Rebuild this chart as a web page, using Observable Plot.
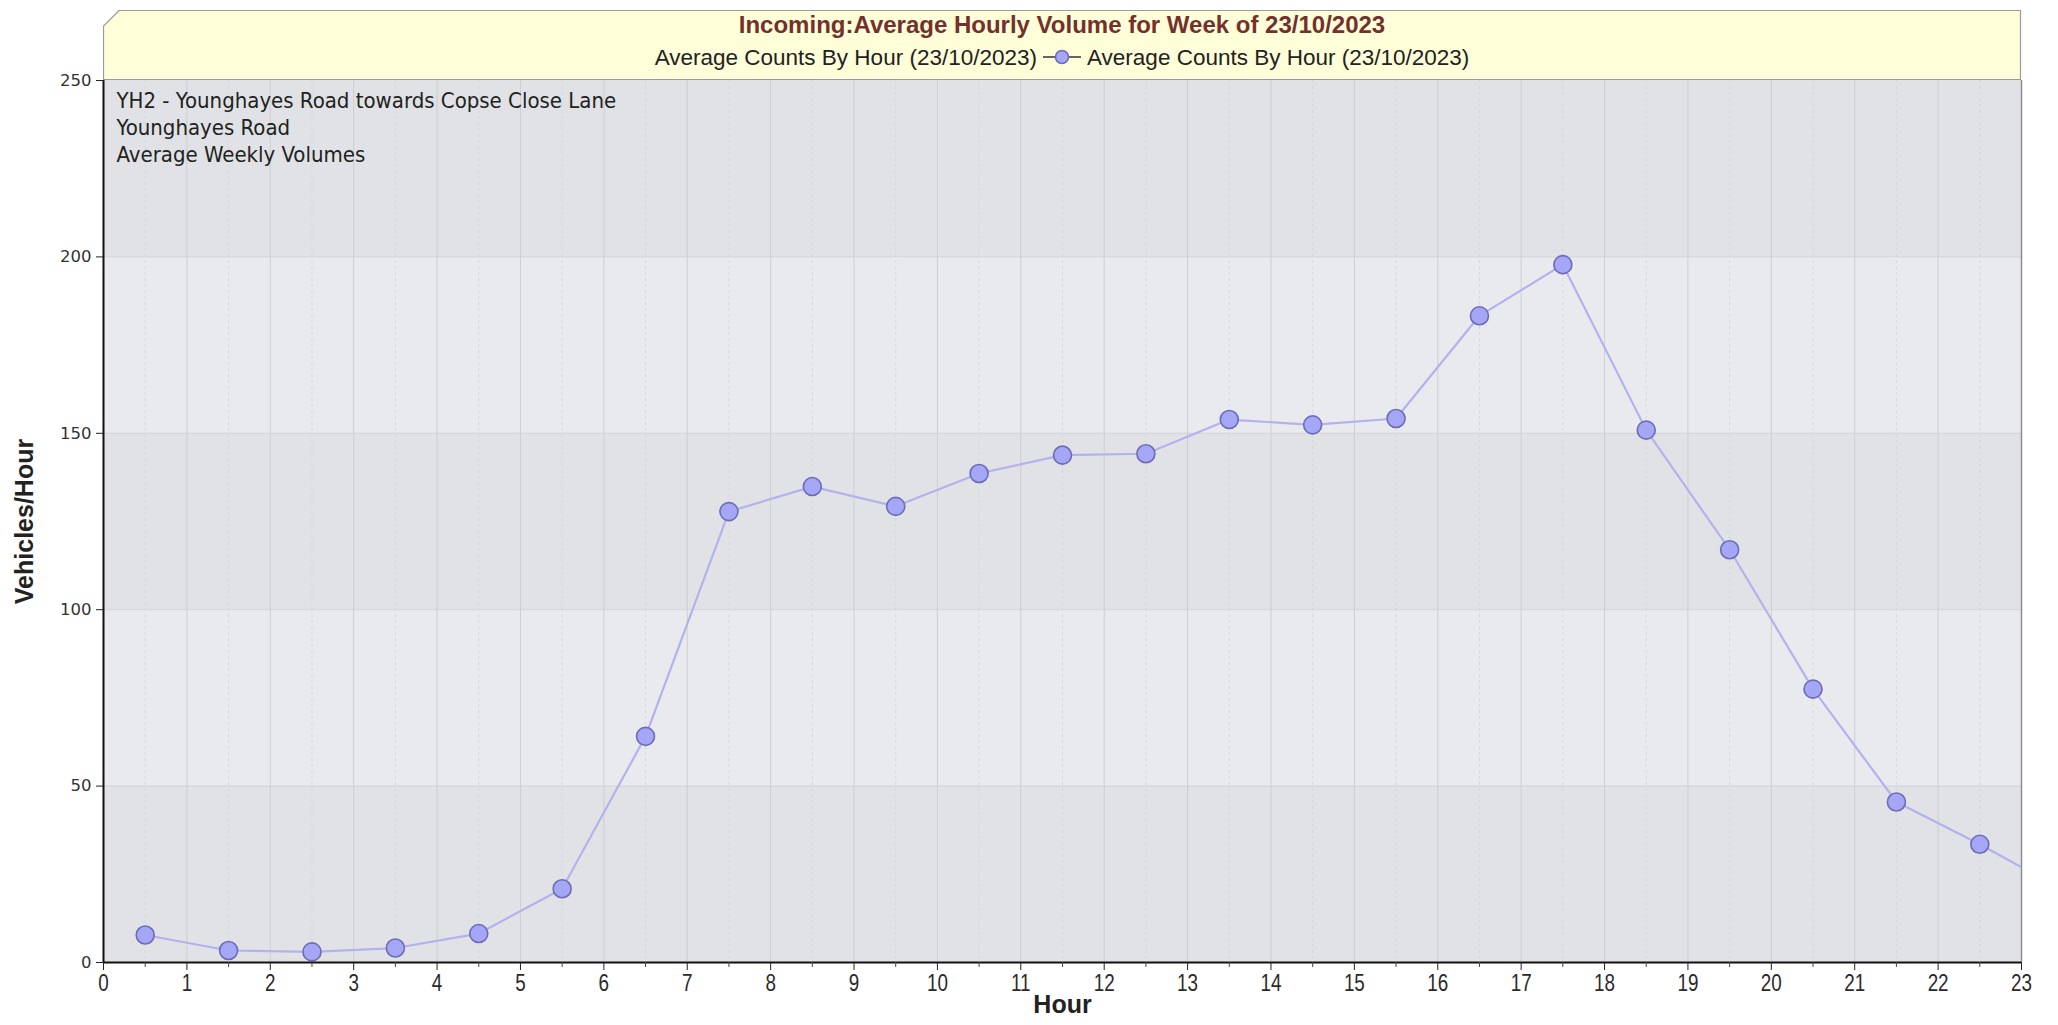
<!DOCTYPE html>
<html>
<head>
<meta charset="utf-8">
<script src="https://cdn.jsdelivr.net/npm/d3@7"></script>
<script src="https://cdn.jsdelivr.net/npm/@observablehq/plot@0.6"></script>
<style>
  body { margin: 0; background: #ffffff; }
  #wrap { position: relative; width: 2058px; height: 1025px; overflow: hidden; }
  #legend { position: absolute; left: 103px; top: 10px; width: 1918px; height: 70px; }
  #legend svg.bg { position: absolute; left: 0; top: 0; }
  #legend .title { position: absolute; left: 0; right: 0; top: 1px; text-align: center;
    font-family: "Liberation Sans", Arial, sans-serif; font-weight: bold; font-size: 24px; line-height: 28px; color: #74302d; white-space: nowrap; }
  #legend .row { position: absolute; left: 0; right: 0; top: 35px; text-align: center; line-height: 26px;
    font-family: "Liberation Sans", Arial, sans-serif; font-size: 22.5px; color: #222; white-space: nowrap; }
  #legend .row svg { vertical-align: middle; margin: 0 6px; position: relative; top: -2px; }
</style>
</head>
<body>
<div id="wrap">
  <div id="chart"></div>
  <div id="legend"></div>
</div>
<script>
// ---- data ----
const titleText = "Incoming:Average Hourly Volume for Week of 23/10/2023";
const seriesNames = ["Average Counts By Hour (23/10/2023)", "Average Counts By Hour (23/10/2023)"];
const annotationLines = ["YH2 - Younghayes Road towards Copse Close Lane", "Younghayes Road", "Average Weekly Volumes"];
const hours = [0.5, 1.5, 2.5, 3.5, 4.5, 5.5, 6.5, 7.5, 8.5, 9.5, 10.5, 11.5,
               12.5, 13.5, 14.5, 15.5, 16.5, 17.5, 18.5, 19.5, 20.5, 21.5, 22.5, 23.5];
const counts = [7.8, 3.4, 3.0, 4.1, 8.2, 20.9, 64.1, 127.8, 134.9, 129.3, 138.6, 143.8,
                144.2, 153.9, 152.4, 154.2, 183.3, 197.8, 150.9, 117.0, 77.5, 45.5, 33.5, 20.5];
const xTicks = [0, 1, 2, 3, 4, 5, 6, 7, 8, 9, 10, 11, 12, 13, 14, 15, 16, 17, 18, 19, 20, 21, 22, 23];
const xMinorTicks = [0.5, 1.5, 2.5, 3.5, 4.5, 5.5, 6.5, 7.5, 8.5, 9.5, 10.5, 11.5,
                     12.5, 13.5, 14.5, 15.5, 16.5, 17.5, 18.5, 19.5, 20.5, 21.5, 22.5];
const yTicks = [0, 50, 100, 150, 200, 250];
const darkBandLow = [0, 100, 200];
const darkBandHigh = [50, 150, 250];
const xLabel = "Hour";
const yLabel = "Vehicles/Hour";

// ---- build ----
const data = hours.map((h, i) => ({hour: h, count: counts[i]}));
const bands = darkBandLow.map((lo, i) => ({lo, hi: darkBandHigh[i]}));
const inner = xTicks.slice(1, -1);
const gridY = yTicks.slice(1, -1);

const sansFont = "'Liberation Sans', Arial, sans-serif";

const chart = Plot.plot({
  width: 2058,
  height: 1025,
  marginLeft: 103,
  marginRight: 37,
  marginTop: 80,
  marginBottom: 63,
  style: {fontFamily: sansFont, background: "transparent", color: "#222"},
  x: {domain: [0, 23], axis: null, label: null},
  y: {domain: [0, 250], axis: null, label: null},
  marks: [
    Plot.frame({fill: "#e8eaed", stroke: null}),
    Plot.rect(bands, {y1: "lo", y2: "hi", fill: "#e1e2e5"}),
    Plot.ruleY(gridY, {stroke: "#d3d4d7", strokeWidth: 1}),
    Plot.ruleX(xMinorTicks, {stroke: "#d6d7da", strokeWidth: 1, strokeDasharray: "3,3"}),
    Plot.ruleX(inner, {stroke: "#cdced2", strokeWidth: 1}),
    Plot.ruleX([23], {stroke: "#8f8f8f", strokeWidth: 1.5}),
    Plot.line(data, {x: "hour", y: "count", stroke: "#b2b2ef", strokeWidth: 2.2, clip: true}),
    Plot.dot(data, {x: "hour", y: "count", r: 9, fill: "#a6a6f6", stroke: "#6c6cb6", strokeWidth: 1.6, clip: true}),
    Plot.ruleY([0], {stroke: "#111", strokeWidth: 2}),
    Plot.ruleX([0], {stroke: "#111", strokeWidth: 2}),
    Plot.axisX(xTicks, {label: null, tickSize: 8, tickPadding: 4, fontSize: 23, tickFormat: d => String(d), stroke: "#222", fill: "#2a2a2a"}),
    Plot.axisX(xMinorTicks, {label: null, tickSize: 5, text: null, stroke: "#444"}),
    Plot.axisY(yTicks, {label: null, tickSize: 7, tickPadding: 5, fontSize: 16.5, fontFamily: "'DejaVu Sans', Verdana, sans-serif", tickFormat: d => String(d), stroke: "#222", fill: "#333"}),
    Plot.text([annotationLines.join("\n")], {frameAnchor: "top-left", dx: 13, dy: 8, fontSize: 22, lineHeight: 1.23,
      fontFamily: "'DejaVu Sans Condensed', 'DejaVu Sans', sans-serif", fill: "#222", textAnchor: "start", lineAnchor: "top"}),
    Plot.text([xLabel], {frameAnchor: "bottom", dy: 50, fontSize: 25, fontWeight: "bold", fill: "#222", textAnchor: "middle"}),
    Plot.text([yLabel], {frameAnchor: "left", dx: -79, rotate: -90, fontSize: 25, fontWeight: "bold", fill: "#222", textAnchor: "middle", lineAnchor: "middle"})
  ]
});
document.getElementById("chart").appendChild(chart);

// narrow the x tick labels (reference uses a condensed face)
d3.select(chart).selectAll('g[aria-label="x-axis tick label"] text').each(function () {
  const t = this.getAttribute("transform") || "";
  this.setAttribute("transform", t + " scale(0.82,1)");
});

// ---- title / legend box ----
const legend = document.getElementById("legend");
const W = 1918, H = 70, c = 16;
legend.innerHTML =
  `<svg class="bg" width="${W + 4}" height="${H + 2}">
     <polygon points="${c},0.5 ${W - 0.5},0.5 ${W - 0.5},${H - 0.5} 0.5,${H - 0.5} 0.5,${c}"
       fill="#fefed8" stroke="#9a9a9a" stroke-width="1.2"/>
   </svg>
   <div class="title"></div>
   <div class="row"><span class="s1"></span><svg width="38" height="16"><line x1="0" y1="8" x2="38" y2="8" stroke="#333" stroke-width="1.6"/><circle cx="19" cy="8" r="6.5" fill="#a6a6f6" stroke="#6c6cb6" stroke-width="1.5"/></svg><span class="s2"></span></div>`;
legend.querySelector(".title").textContent = titleText;
legend.querySelector(".s1").textContent = seriesNames[0];
legend.querySelector(".s2").textContent = seriesNames[1];
</script>
</body>
</html>
